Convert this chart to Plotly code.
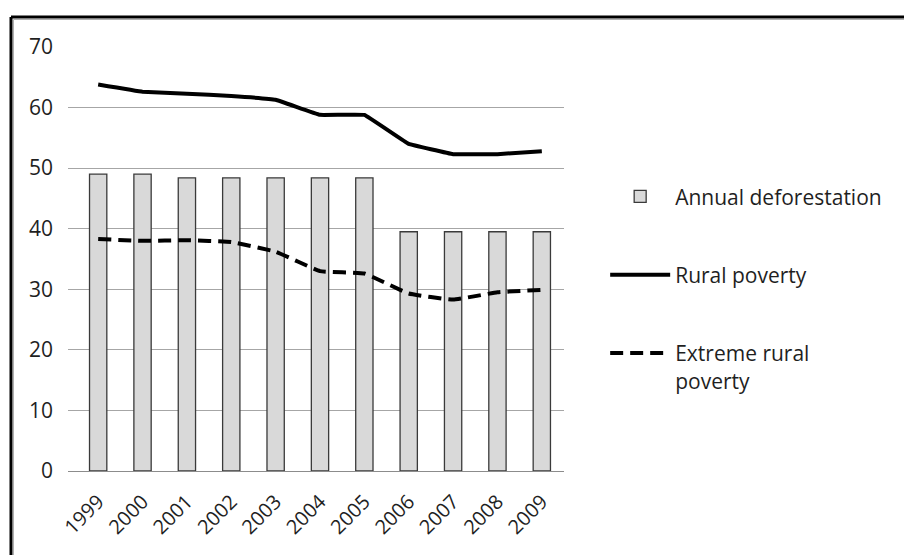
import plotly.graph_objects as go

years = ["1999", "2000", "2001", "2002", "2003", "2004", "2005", "2006", "2007", "2008", "2009"]
deforestation = [49.0, 49.0, 48.4, 48.4, 48.4, 48.4, 48.4, 39.5, 39.5, 39.5, 39.5]
rural_poverty = [63.8, 62.6, 62.3, 61.9, 61.3, 58.8, 58.8, 54.0, 52.3, 52.3, 52.8]
extreme_rural_poverty = [38.3, 38.0, 38.1, 37.8, 36.2, 33.0, 32.6, 29.3, 28.3, 29.5, 29.9]
y_ticks = [0, 10, 20, 30, 40, 50, 60, 70]

FONT = "'Open Sans', Lato, sans-serif"
TXT = "#1f1f1f"
FS = 21

fig = go.Figure()
fig.add_trace(go.Bar(
    x=years, y=deforestation, name="Annual deforestation",
    width=0.39, marker=dict(color="#d9d9d9", line=dict(color="#3a3a3a", width=1.3)),
    legendgroup="a",
))
fig.add_trace(go.Scatter(
    x=years, y=rural_poverty, name="Rural poverty", mode="lines",
    line=dict(color="black", width=4, shape="spline", smoothing=0.15),
    legendgroup="b",
))
fig.add_trace(go.Scatter(
    x=years, y=extreme_rural_poverty, name="Extreme rural<br>poverty", mode="lines",
    line=dict(color="black", width=4, dash="13px,7px", shape="spline", smoothing=0.3),
    legendgroup="c",
))

xr = [-0.68, len(years) - 0.5]
fig.update_layout(
    width=904, height=555,
    margin=dict(l=68, r=340, t=47, b=84),
    paper_bgcolor="white", plot_bgcolor="white",
    font=dict(family=FONT, size=FS, color=TXT),
    showlegend=True,
    legend=dict(
        x=1.083, y=0.695, xanchor="left", yanchor="top",
        traceorder="grouped", tracegroupgap=48, valign="top",
        font=dict(family=FONT, size=FS, color=TXT),
        bgcolor="rgba(0,0,0,0)", itemwidth=60,
    ),
    xaxis=dict(
        type="category", range=xr, tickangle=-45, ticks="",
        showline=True, linecolor="#8c8c8c", linewidth=1.2,
        showgrid=False, zeroline=False, ticklabelstandoff=10,
        tickfont=dict(family=FONT, size=FS - 1, color=TXT),
    ),
    xaxis2=dict(
        overlaying="x", anchor="y", side="bottom", range=xr,
        tickmode="array", tickvals=[i + 0.5 for i in range(len(years))],
        ticks="outside", ticklen=8, tickcolor="#8c8c8c", tickwidth=1.2,
        showticklabels=False, showline=False, showgrid=False, zeroline=False,
    ),
    yaxis=dict(
        range=[0, 70], tickmode="array", tickvals=y_ticks,
        ticks="", showline=False, zeroline=False,
        gridcolor="#a6a6a6", gridwidth=1.2,
        ticklabelstandoff=14,
        tickfont=dict(family=FONT, size=FS, color=TXT),
    ),
)

# chart frame
left_x = (11 - 68) / 496
top_y = (471 - 17) / 424
fig.add_shape(type="line", xref="paper", yref="paper", x0=left_x, x1=left_x, y0=-0.3, y1=top_y,
              line=dict(color="black", width=3))
fig.add_shape(type="line", xref="paper", yref="paper", x0=left_x, x1=2.0, y0=top_y, y1=top_y,
              line=dict(color="black", width=3))
in_x = (13.5 - 68) / 496
in_y = (471 - 19.5) / 424
fig.add_shape(type="line", xref="paper", yref="paper", x0=in_x, x1=in_x, y0=-0.3, y1=in_y,
              line=dict(color="#b0b0b0", width=1))
fig.add_shape(type="line", xref="paper", yref="paper", x0=in_x, x1=2.0, y0=in_y, y1=in_y,
              line=dict(color="#b0b0b0", width=1))

fig.write_html("out.html")
